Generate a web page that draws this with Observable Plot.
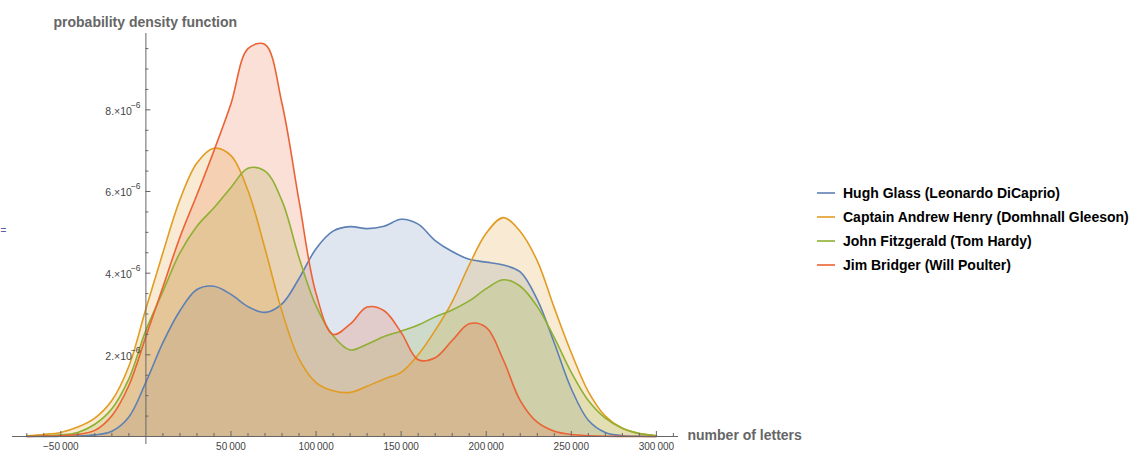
<!DOCTYPE html>
<html><head><meta charset="utf-8">
<script src="https://cdn.jsdelivr.net/npm/d3@7"></script>
<script src="https://cdn.jsdelivr.net/npm/@observablehq/plot@0.6"></script>
<style>
body{margin:0;background:#fff;font-family:"Liberation Sans",Arial,sans-serif;}
#wrap{position:relative;width:1144px;height:468px;overflow:hidden;}
#chart{position:absolute;left:0;top:0;}
#legend{position:absolute;left:817px;top:181px;}
.item{display:flex;align-items:center;height:24px;font-weight:bold;font-size:14px;color:#000;white-space:nowrap;}
.sw{display:block;margin-right:8px;}
</style></head><body>
<div id="wrap"><div id="chart"></div><div id="legend"></div></div>
<script>
// number of letters (sample positions)
const xs = [-70000,-60000,-50000,-40000,-30000,-20000,-10000,0,10000,20000,30000,40000,50000,60000,70000,80000,90000,100000,110000,120000,130000,140000,150000,160000,170000,180000,190000,200000,210000,220000,230000,240000,250000,260000,270000,280000,290000,300000];
// density values, in units of 1e-6
const hughGlass = [0,0,0.005,0.01,0.04,0.13,0.48,1.33,2.3,3.08,3.6,3.68,3.48,3.18,3.04,3.25,3.87,4.6,5.03,5.14,5.09,5.15,5.32,5.2,4.8,4.53,4.34,4.27,4.2,4.03,3.35,2.29,1.17,0.4,0.1,0.02,0.005,0];
const captainHenry = [0.02,0.05,0.1,0.23,0.45,0.88,1.72,3.13,4.5,5.8,6.7,7.06,6.88,6.02,4.6,3.06,1.9,1.32,1.12,1.08,1.23,1.41,1.57,2.0,2.6,3.3,4.2,4.98,5.36,5.02,4.3,3.15,2.05,1.1,0.5,0.2,0.07,0.02];
const johnFitzgerald = [0.005,0.015,0.04,0.1,0.3,0.68,1.41,2.6,3.55,4.5,5.15,5.6,6.1,6.57,6.5,5.77,4.38,3.2,2.47,2.12,2.26,2.45,2.58,2.73,2.93,3.1,3.32,3.62,3.84,3.68,3.18,2.42,1.57,0.88,0.45,0.2,0.07,0.02];
const jimBridger = [0.003,0.008,0.02,0.05,0.15,0.51,1.25,2.45,3.66,4.88,5.92,7.0,8.15,9.5,9.6,8.15,5.77,3.5,2.5,2.75,3.17,3.08,2.55,1.88,1.93,2.35,2.76,2.67,1.88,0.88,0.35,0.13,0.05,0.02,0.005,0.002,0.001,0];

const seriesNames = ["Hugh Glass (Leonardo DiCaprio)","Captain Andrew Henry (Domhnall Gleeson)","John Fitzgerald (Tom Hardy)","Jim Bridger (Will Poulter)"];
const seriesColors = ["#5e81b5","#e19c24","#8fb032","#eb6235"];
const seriesValues = [hughGlass, captainHenry, johnFitzgerald, jimBridger];

const xMajor = [-50000,50000,100000,150000,200000,250000,300000];
const xLabels = ["\u221250\u2009000","50\u2009000","100\u2009000","150\u2009000","200\u2009000","250\u2009000","300\u2009000"];
const xMinor = d3.range(-70000, 310001, 10000).filter(v => v !== 0 && !xMajor.includes(v));
const yMajor = [2e-6,4e-6,6e-6,8e-6];
const yLabelBase = ["2.\u00d710","4.\u00d710","6.\u00d710","8.\u00d710"];
const yLabelExp = ["\u22126","\u22126","\u22126","\u22126"];
const yMinor = d3.range(0.5e-6, 9.6e-6, 0.5e-6).filter(v => !yMajor.some(m => Math.abs(m - v) < 1e-9));

const series = seriesNames.map((name, k) => ({
  name, color: seriesColors[k],
  rows: xs.map((x, i) => ({x, y: seriesValues[k][i] * 1e-6}))
}));

const axisColor = "#666";
const tickText = "#444";

const chart = Plot.plot({
  width: 810, height: 468,
  marginLeft: 12, marginRight: 132, marginTop: 33, marginBottom: 24,
  x: {domain: [-78400, 313000], axis: null},
  y: {domain: [-0.196e-6, 9.87e-6], axis: null},
  style: {fontFamily: "'Liberation Sans', Arial, sans-serif", background: "white"},
  marks: [
    ...series.map(s => Plot.areaY(s.rows, {x: "x", y: "y", fill: s.color, fillOpacity: 0.2, curve: "catmull-rom"})),
    ...series.map(s => Plot.lineY(s.rows, {x: "x", y: "y", stroke: s.color, strokeWidth: 1.6, curve: "catmull-rom"})),
    Plot.ruleY([0], {stroke: axisColor, strokeWidth: 1}),
    Plot.ruleX([0], {stroke: axisColor, strokeWidth: 1}),
    Plot.ruleX(xMinor, {x: d => d, y1: 0, y2: 0.0735e-6, stroke: axisColor}),
    Plot.ruleX(xMajor, {x: d => d, y1: 0, y2: 0.1225e-6, stroke: axisColor}),
    Plot.text(xMajor, {x: d => d, y: 0, text: (d, i) => xLabels[i], dy: 10, fontSize: 10, fill: tickText}),
    Plot.ruleY(yMinor, {y: d => d, x1: 0, x2: 1763, stroke: axisColor}),
    Plot.ruleY(yMajor, {y: d => d, x1: 0, x2: 2938, stroke: axisColor}),
    Plot.text(yMajor, {x: 0, y: d => d, text: (d, i) => yLabelBase[i], textAnchor: "end", dx: -14, dy: 1.5, fontSize: 10.5, fill: tickText}),
    Plot.text(yMajor, {x: 0, y: d => d, text: (d, i) => yLabelExp[i], textAnchor: "start", dx: -15, dy: -5, fontSize: 8.5, fill: tickText}),
    Plot.text(["probability density function"], {frameAnchor: "top-left", textAnchor: "start", dx: 41, dy: -16, fontSize: 14, fontWeight: "bold", fill: "#666"}),
    Plot.text(["number of letters"], {y: 0, frameAnchor: "right", textAnchor: "start", dx: 9, dy: -1, fontSize: 14, fontWeight: "bold", fill: "#666"}),
    Plot.text(["="], {frameAnchor: "left", textAnchor: "start", dx: -12, dy: -8, fontSize: 10, fill: "#5a5aa8"})
  ]
});
document.getElementById("chart").appendChild(chart);

const legend = document.getElementById("legend");
const svgNS = "http://www.w3.org/2000/svg";
series.forEach(s => {
  const item = document.createElement("div");
  item.className = "item";
  const sw = document.createElementNS(svgNS, "svg");
  sw.setAttribute("class", "sw");
  sw.setAttribute("width", "18");
  sw.setAttribute("height", "4");
  const ln = document.createElementNS(svgNS, "line");
  ln.setAttribute("x1", "0"); ln.setAttribute("x2", "18");
  ln.setAttribute("y1", "2"); ln.setAttribute("y2", "2");
  ln.setAttribute("stroke", s.color); ln.setAttribute("stroke-width", "1.6");
  sw.appendChild(ln);
  const label = document.createElement("span");
  label.textContent = s.name;
  item.appendChild(sw); item.appendChild(label);
  legend.appendChild(item);
});
</script>
</body></html>
